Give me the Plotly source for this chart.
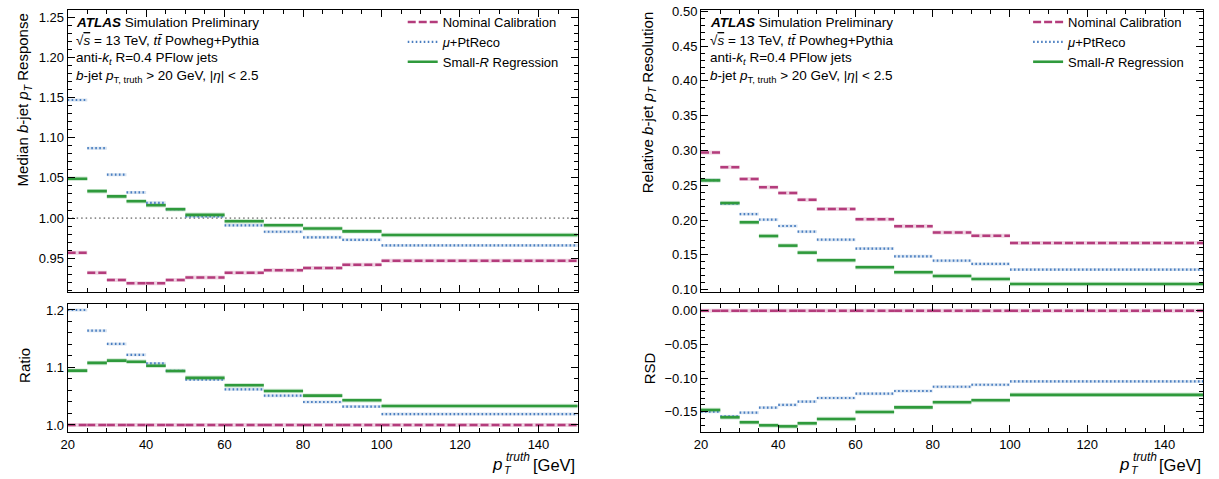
import plotly.graph_objects as go

# ---------------- data ----------------
bin_edges = [20, 25, 30, 35, 40, 45, 50, 60, 70, 80, 90, 100, 150]

resp_nominal = [0.957, 0.932, 0.923, 0.919, 0.919, 0.923, 0.926, 0.932, 0.935, 0.938, 0.942, 0.947]
resp_ptreco = [1.147, 1.087, 1.054, 1.032, 1.019, 1.011, 1.002, 0.991, 0.983, 0.976, 0.973, 0.966]
resp_smallr = [1.049, 1.0335, 1.027, 1.021, 1.016, 1.011, 1.004, 0.996, 0.991, 0.987, 0.9835, 0.979]

ratio_nominal = [1.0] * 12
ratio_ptreco = [1.200, 1.164, 1.141, 1.122, 1.107, 1.094, 1.079, 1.062, 1.051, 1.040, 1.032, 1.019]
ratio_smallr = [1.0945, 1.108, 1.112, 1.110, 1.103, 1.094, 1.082, 1.069, 1.059, 1.051, 1.043, 1.033]

res_nominal = [0.297, 0.276, 0.259, 0.247, 0.239, 0.229, 0.216, 0.201, 0.191, 0.182, 0.1775, 0.167]
res_ptreco = [0.2575, 0.2235, 0.2086, 0.2005, 0.1914, 0.1833, 0.1718, 0.1589, 0.1478, 0.1416, 0.1368, 0.1287]
res_smallr = [0.257, 0.2244, 0.1967, 0.177, 0.1632, 0.1531, 0.1421, 0.132, 0.1249, 0.1196, 0.1153, 0.1081]

rsd_nominal = [0.0] * 12
rsd_ptreco = [-0.150, -0.157, -0.1515, -0.144, -0.140, -0.135, -0.1297, -0.1233, -0.1193, -0.113, -0.110, -0.105]
rsd_smallr = [-0.1475, -0.1584, -0.1658, -0.1703, -0.1718, -0.1673, -0.1609, -0.1505, -0.1436, -0.136, -0.133, -0.125]

ref_x = [20, 150]
ref_y = [1.0, 1.0]

series_names = ["Nominal Calibration", "<i>μ</i>+PtReco", "Small-<i>R</i> Regression"]
info_lines = [
    "<b><i>ATLAS</i></b> Simulation Preliminary",
    "√<span style='text-decoration:overline'><i>s</i></span> = 13 TeV, <i>tt̄</i> Powheg+Pythia",
    "anti-<i>k<sub>t</sub></i> R=0.4 PFlow jets",
    "<i>b</i>-jet <i>p</i><sub>T, truth</sub> > 20 GeV, |<i>η</i>| < 2.5",
]
y_titles = [
    "Median <i>b</i>-jet <i>p<sub>T</sub></i> Response",
    "Ratio",
    "Relative <i>b</i>-jet <i>p<sub>T</sub></i> Resolution",
    "RSD",
]

# ---------------- style ----------------
W, H = 1219, 479
FONT = "Liberation Sans, Arial, sans-serif"
PINK = "#b43c7c"
BLUE = "#4a7ec0"
GREEN = "#2f9a3c"
styles = [
    dict(color=PINK, width=2.5, dash="8px,3px"),
    dict(color=BLUE, width=2.2, dash="1.6px,2.4px"),
    dict(color=GREEN, width=2.6, dash="solid"),
]
halo = [
    dict(color="rgba(180,60,124,0.22)", width=4),
    dict(color="rgba(74,126,192,0.22)", width=3),
    dict(color="rgba(47,154,60,0.22)", width=4.5),
]


def px_x(p):
    return p / W


def px_y(p):
    return 1 - p / H


def steps(edges, vals):
    xs, ys = [], []
    for i, v in enumerate(vals):
        xs += [edges[i], edges[i + 1], None]
        ys += [v, v, None]
    return xs, ys


fig = go.Figure()

panels = [
    ("x", "y", [resp_nominal, resp_ptreco, resp_smallr], "legend"),
    ("x2", "y2", [ratio_nominal, ratio_ptreco, ratio_smallr], None),
    ("x3", "y3", [res_nominal, res_ptreco, res_smallr], "legend2"),
    ("x4", "y4", [rsd_nominal, rsd_ptreco, rsd_smallr], None),
]

fig.add_trace(go.Scatter(x=ref_x, y=ref_y, mode="lines", xaxis="x", yaxis="y",
                         line=dict(color="#8c8c8c", width=1.6, dash="1.5px,3px"),
                         showlegend=False, hoverinfo="skip"))

for xa, ya, series, leg in panels:
    for k, vals in enumerate(series):
        xs, ys = steps(bin_edges, vals)
        fig.add_trace(go.Scatter(x=xs, y=ys, mode="lines", xaxis=xa, yaxis=ya,
                                 line=halo[k], showlegend=False, hoverinfo="skip"))
    for k, vals in enumerate(series):
        xs, ys = steps(bin_edges, vals)
        fig.add_trace(go.Scatter(x=xs, y=ys, mode="lines", xaxis=xa, yaxis=ya,
                                 line=styles[k], name=series_names[k],
                                 showlegend=leg is not None,
                                 legend=leg if leg else "legend"))

# ---------------- axes ----------------
xl = [px_x(61), px_x(574)]
xr = [px_x(698), px_x(1203)]
yt = [px_y(292), px_y(10)]
yb = [px_y(432), px_y(304)]

tickfont = dict(family=FONT, size=13, color="black")


def xaxis(domain, anchor, labels):
    return dict(domain=domain, anchor=anchor, range=[20, 150], tick0=20, dtick=20,
                showticklabels=labels, ticks="inside", ticklen=7, tickwidth=1,
                tickcolor="black", showline=True, linecolor="black", linewidth=1,
                mirror="allticks", showgrid=False, zeroline=False, tickfont=tickfont,
                minor=dict(ticks="inside", dtick=5, ticklen=4, tickcolor="black", showgrid=False))


def yaxis(domain, anchor, rng, dtick, mdtick, fmt):
    return dict(domain=domain, anchor=anchor, range=rng, dtick=dtick, tickformat=fmt,
                ticks="inside", ticklen=7, tickwidth=1, tickcolor="black",
                showline=True, linecolor="black", linewidth=1, mirror="allticks",
                showgrid=False, zeroline=False, tickfont=tickfont, automargin=False,
                minor=dict(ticks="inside", dtick=mdtick, ticklen=4, tickcolor="black", showgrid=False))


fig.update_layout(
    xaxis=xaxis(xl, "y", False),
    yaxis=yaxis(yt, "x", [0.908, 1.259], 0.05, 0.01, ".2f"),
    xaxis2=xaxis(xl, "y2", True),
    yaxis2=yaxis(yb, "x2", [0.9878, 1.2104], 0.1, 0.02, ".1f"),
    xaxis3=xaxis(xr, "y3", False),
    yaxis3=yaxis(yt, "x3", [0.0965, 0.502], 0.05, 0.01, ".2f"),
    xaxis4=xaxis(xr, "y4", True),
    yaxis4=yaxis(yb, "x4", [-0.1802, 0.00995], 0.05, 0.01, ".2f"),
)

legend_common = dict(font=dict(family=FONT, size=13, color="black"), bgcolor="rgba(0,0,0,0)",
                     borderwidth=0, xanchor="left", yanchor="top", tracegroupgap=0)
fig.update_layout(
    legend=dict(x=px_x(398), y=px_y(7), **legend_common),
    legend2=dict(x=px_x(1027), y=px_y(7), **legend_common),
)

# ---------------- annotations ----------------
ann = []
for x0 in (67, 705):
    for line, yc in zip(info_lines, [23, 41, 58, 76]):
        ann.append(dict(text=line, x=px_x(x0), y=px_y(yc), xref="paper", yref="paper",
                        xanchor="left", yanchor="middle", showarrow=False,
                        font=dict(family=FONT, size=13.5, color="black")))

title_font = dict(family=FONT, size=15, color="black")
for text, xc, yv, yanc in [
    (y_titles[0], 17, 11, "top"),
    (y_titles[1], 17, 365, "middle"),
    (y_titles[2], 646, 9, "top"),
    (y_titles[3], 646, 368, "middle"),
]:
    ann.append(dict(text=text, x=px_x(xc), y=px_y(yv), xref="paper", yref="paper",
                    xanchor="center", yanchor=yanc, textangle=-90, showarrow=False,
                    font=title_font))

for dx in (0, 630):
    ann.append(dict(text="[GeV]", x=px_x(573 + dx), y=px_y(465), xref="paper", yref="paper",
                    xanchor="right", yanchor="middle", showarrow=False,
                    font=dict(family=FONT, size=16.5, color="black")))
    ann.append(dict(text="<i>truth</i>", x=px_x(500 + dx), y=px_y(457), xref="paper", yref="paper",
                    xanchor="left", yanchor="middle", showarrow=False,
                    font=dict(family=FONT, size=12, color="black")))
    ann.append(dict(text="<i>T</i>", x=px_x(498 + dx), y=px_y(470), xref="paper", yref="paper",
                    xanchor="left", yanchor="middle", showarrow=False,
                    font=dict(family=FONT, size=11, color="black")))
    ann.append(dict(text="<i>p</i>", x=px_x(500 + dx), y=px_y(464), xref="paper", yref="paper",
                    xanchor="right", yanchor="middle", showarrow=False,
                    font=dict(family=FONT, size=17, color="black")))

fig.update_layout(
    annotations=ann,
    width=W, height=H,
    margin=dict(l=0, r=0, t=0, b=0, pad=0),
    paper_bgcolor="white", plot_bgcolor="white",
    font=dict(family=FONT, color="black"),
)

fig.write_html("out.html")
